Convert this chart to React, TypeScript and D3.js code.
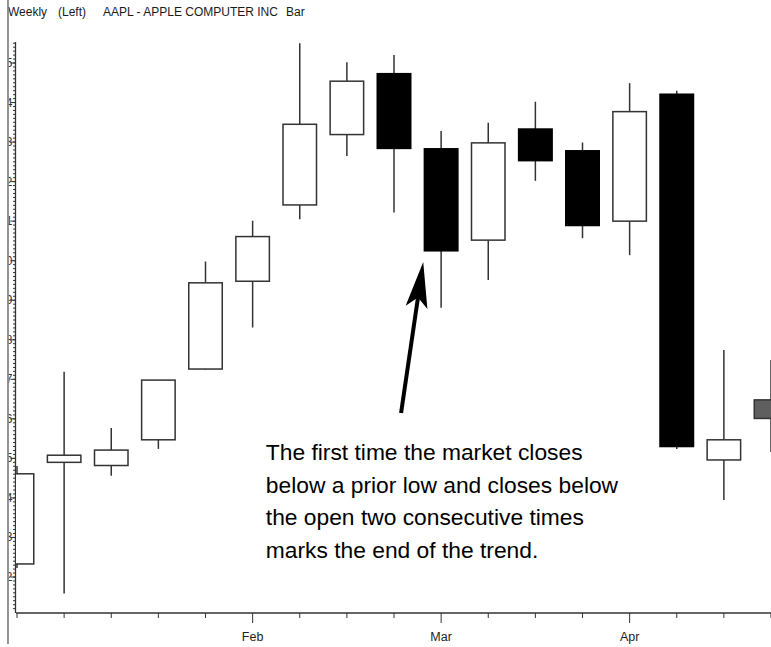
import * as d3 from 'd3'

// weekly bars, index 0..16
const weekLabels = ['', '', '', '', '', 'Feb', '', '', '', 'Mar', '', '', '', 'Apr', '', '', '']
const opens = [12.33, 14.9, 14.82, 15.47, 17.26, 19.48, 21.41, 23.19, 24.73, 22.83, 20.52, 23.33, 22.78, 21.0, 24.21, 14.96, 16.01]
const highs = [14.81, 17.19, 15.77, 16.98, 19.98, 21.01, 25.5, 25.02, 25.2, 23.28, 23.49, 24.02, 22.99, 24.49, 24.3, 17.74, 17.49]
const lows = [12.23, 11.58, 14.56, 15.24, 17.24, 18.31, 21.05, 22.65, 21.22, 18.81, 19.51, 22.02, 20.57, 20.14, 15.24, 13.95, 15.16]
const closes = [14.61, 15.08, 15.21, 16.98, 19.44, 20.61, 23.45, 24.54, 22.84, 20.25, 22.98, 22.53, 20.89, 23.77, 15.3, 15.47, 16.48]
const lastBarIsLive = true

const titleParts = ['Weekly', '(Left)', 'AAPL - APPLE COMPUTER INC', 'Bar']
const titleX = [8, 58, 103, 286]

const yMajor = d3.range(12, 26)
const yMinor = d3.range(112, 256).map(v => v / 10)

const noteLines = [
  'The first time the market closes',
  'below a prior low and closes below',
  'the open two consecutive times',
  'marks the end of the trend.',
]
// arrow in data coords: [week index, price]
const arrowFrom: [number, number] = [8.15, 16.15]
const arrowTo: [number, number] = [8.62, 19.97]

const FONT = '"Liberation Sans", Arial, sans-serif'

export default function App() {
  const W = 771
  const H = 647
  const plotLeft = 16
  const plotBottom = 613
  const x = d3.scaleLinear().domain([0, 16]).range([17, 771])
  const y = d3.scaleLinear().domain([12, 25]).range([577, 63])
  const bw = 33.5
  const axisTop = y(25.53)

  // arrow geometry
  const [tx, ty] = [x(arrowTo[0]), y(arrowTo[1])]
  const [fx, fy] = [x(arrowFrom[0]), y(arrowFrom[1])]
  const len = Math.hypot(tx - fx, ty - fy)
  const ux = (tx - fx) / len
  const uy = (ty - fy) / len
  const px = -uy
  const py = ux
  const headLen = 46
  const notch = 36
  const half = 11
  const bx = tx - ux * headLen
  const by = ty - uy * headLen
  const head = [
    [tx, ty],
    [bx + px * half, by + py * half],
    [tx - ux * notch, ty - uy * notch],
    [bx - px * half, by - py * half],
  ].map(p => p.join(',')).join(' ')

  return (
    <svg width={W} height={H} style={{ position: 'fixed', left: 0, top: 0, background: '#fff' }}>
      <defs>
        <clipPath id="plot">
          <rect x={plotLeft} y={0} width={W - plotLeft} height={plotBottom} />
        </clipPath>
        <clipPath id="ylab">
          <rect x={8.5} y={0} width={10} height={H} />
        </clipPath>
      </defs>
      <rect width={W} height={H} fill="#fff" />

      {/* title */}
      <text y={16} fontFamily={FONT} fontSize={12} fill="#1a1a1a">
        {titleParts.map((t, i) => (
          <tspan key={i} x={titleX[i]}>
            {t}
          </tspan>
        ))}
      </text>

      {/* y axis labels (cut off by the panel edge) */}
      <g clipPath="url(#ylab)">
        {yMajor.map(v => (
          <text key={v} x={12.5} y={y(v) + 4} textAnchor="end" fontFamily={FONT} fontSize={12} fill="#333">
            {v}
          </text>
        ))}
      </g>

      {/* y axis */}
      <line x1={15.5} x2={15.5} y1={axisTop} y2={plotBottom} stroke="#333" strokeWidth={1.3} />
      {yMinor.map(v => (
        <line key={v} x1={13} x2={15.5} y1={y(v)} y2={y(v)} stroke="#333" strokeWidth={1} />
      ))}
      {yMajor.map(v => (
        <line key={'M' + v} x1={10.5} x2={15.5} y1={y(v)} y2={y(v)} stroke="#333" strokeWidth={1} />
      ))}

      {/* x axis */}
      <line x1={plotLeft} x2={W} y1={plotBottom} y2={plotBottom} stroke="#333" strokeWidth={1.3} />
      {weekLabels.map((lab, i) => (
        <g key={i}>
          <line x1={x(i)} x2={x(i)} y1={plotBottom} y2={plotBottom + (lab ? 10 : 5)} stroke="#333" strokeWidth={1} />
          {lab && (
            <text x={x(i)} y={plotBottom + 28} textAnchor="middle" fontFamily={FONT} fontSize={12.5} fill="#222">
              {lab}
            </text>
          )}
        </g>
      ))}

      {/* candles */}
      <g clipPath="url(#plot)">
        {opens.map((o, i) => {
          const c = closes[i]
          const up = c >= o
          const live = lastBarIsLive && i === opens.length - 1
          const fill = live ? '#5f5f5f' : up ? '#fff' : '#000'
          const top = y(Math.max(o, c))
          const bot = y(Math.min(o, c))
          return (
            <g key={i}>
              <line x1={x(i)} x2={x(i)} y1={y(highs[i])} y2={y(lows[i])} stroke="#333" strokeWidth={1.5} />
              <rect
                x={x(i) - bw / 2}
                y={top}
                width={bw}
                height={Math.max(1, bot - top)}
                fill={fill}
                stroke={up || live ? '#333' : '#000'}
                strokeWidth={1.5}
              />
            </g>
          )
        })}
      </g>

      {/* panel edge */}
      <line x1={8} x2={8} y1={0} y2={644} stroke="#7a7a7a" strokeWidth={1.6} />

      {/* annotation */}
      <line x1={fx} y1={fy} x2={tx - ux * (notch - 2)} y2={ty - uy * (notch - 2)} stroke="#000" strokeWidth={4} />
      <polygon points={head} fill="#000" />
      <text fontFamily={FONT} fontSize={22.8} fill="#000">
        {noteLines.map((t, i) => (
          <tspan key={i} x={x(5.28)} y={y(14.96) + i * 32.7}>
            {t}
          </tspan>
        ))}
      </text>
    </svg>
  )
}
